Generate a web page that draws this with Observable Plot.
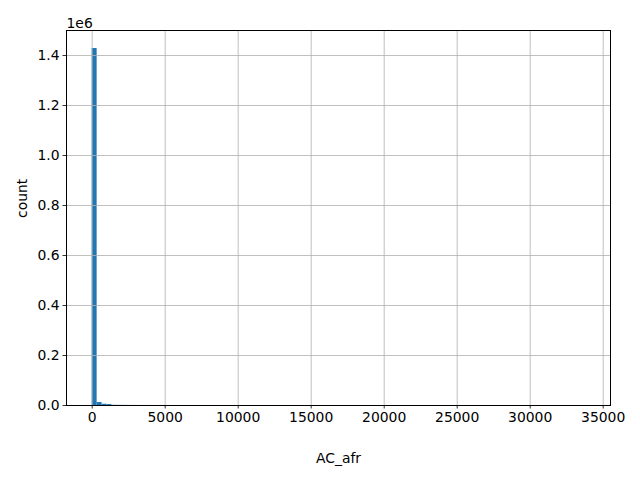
<!DOCTYPE html>
<html>
<head>
<meta charset="utf-8">
<script src="https://cdn.jsdelivr.net/npm/d3@7"></script>
<script src="https://cdn.jsdelivr.net/npm/@observablehq/plot@0.6"></script>
<style>
  html, body { margin: 0; padding: 0; background: #fff; }
  #chart { width: 640px; height: 480px; }
</style>
</head>
<body>
<div id="chart"></div>
<script>
// Histogram of AC_afr: 100 equal-width bins spanning 0 .. ~33870
const binStart = 0;
const binWidth = 338.7;
const counts = [
  1428000, 12000, 5000, 3800, 900, 600, 420, 310, 240, 190,
  150, 120, 100, 85, 72, 62, 54, 47, 41, 36,
  32, 28, 25, 22, 20, 18, 16, 15, 14, 13,
  12, 11, 10, 9, 8, 8, 7, 7, 6, 6,
  5, 5, 5, 4, 4, 4, 3, 3, 3, 3,
  3, 2, 2, 2, 2, 2, 2, 2, 1, 1,
  1, 1, 1, 1, 1, 1, 1, 1, 1, 1,
  1, 0, 1, 1, 0, 1, 0, 1, 0, 1,
  0, 1, 0, 0, 1, 0, 0, 1, 0, 0,
  1, 0, 0, 0, 1, 0, 0, 0, 0, 1
];
const xTicks = [0, 5000, 10000, 15000, 20000, 25000, 30000, 35000];
const yTicks = [0, 200000, 400000, 600000, 800000, 1000000, 1200000, 1400000];
const xLabel = "AC_afr";
const yLabel = "count";
const offsetLabel = "1e6";

const bins = counts.map((c, i) => ({
  x1: binStart + i * binWidth,
  x2: binStart + (i + 1) * binWidth,
  count: c
}));

const chart = Plot.plot({
  width: 640,
  height: 480,
  marginLeft: 66,
  marginRight: 30,
  marginTop: 30,
  marginBottom: 75,
  style: { fontFamily: "DejaVu Sans", fontSize: "13.9px", color: "black", background: "white" },
  x: { domain: [-1760, 35500], ticks: xTicks },
  y: { domain: [0, 1500000], ticks: yTicks },
  marks: [
    Plot.rectY(bins, { x1: "x1", x2: "x2", y: "count", fill: "#1f77b4", insetLeft: 0, insetRight: 0 }),
    Plot.gridX(xTicks, { stroke: "#b0b0b0", strokeOpacity: 1, strokeWidth: 0.8 }),
    Plot.gridY(yTicks, { stroke: "#b0b0b0", strokeOpacity: 1, strokeWidth: 0.8 }),
    Plot.frame({ stroke: "black", strokeWidth: 1, shapeRendering: "crispEdges" }),
    Plot.axisX(xTicks, { tickSize: 3.5, tickPadding: 3.5, strokeWidth: 0.8, fontSize: 13.9, tickFormat: d => String(d), label: null }),
    Plot.axisY(yTicks, { tickSize: 3.5, tickPadding: 3.5, strokeWidth: 0.8, fontSize: 13.9, tickFormat: d => (d / 1e6).toFixed(1), label: null }),
    Plot.text([offsetLabel], { frameAnchor: "top-left", text: d => d, textAnchor: "start", lineAnchor: "bottom", dy: -3, fontSize: 13.9 }),
    Plot.text([xLabel], { frameAnchor: "bottom", text: d => d, lineAnchor: "middle", dy: 53, fontSize: 13.9 }),
    Plot.text([yLabel], { frameAnchor: "left", text: d => d, rotate: -90, lineAnchor: "middle", dx: -44, fontSize: 13.9 })
  ]
});
document.getElementById("chart").appendChild(chart);
</script>
</body>
</html>
